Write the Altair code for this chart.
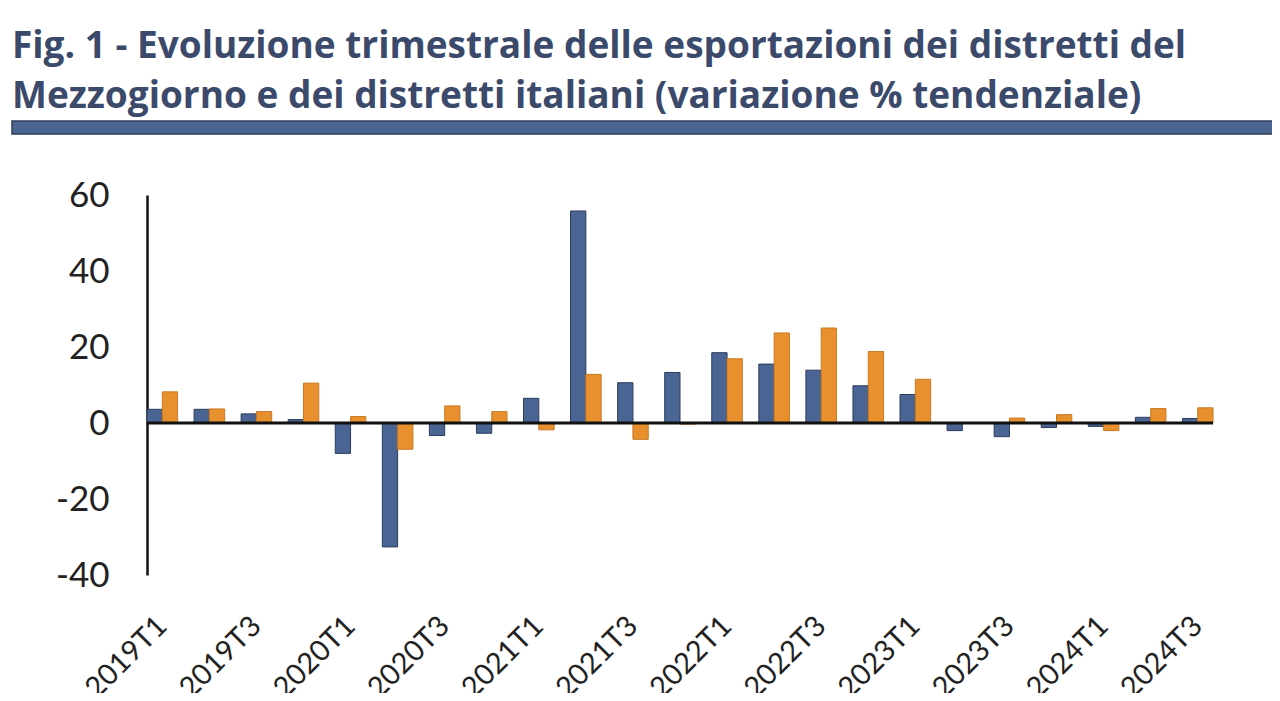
import altair as alt
import pandas as pd

quarters = [f"{y}T{q}" for y in range(2019, 2025) for q in range(1, 5)][:23]
mezzogiorno = [3.6, 3.6, 2.4, 0.9, -8.0, -32.6, -3.3, -2.7, 6.5, 55.8, 10.6, 13.3,
               18.5, 15.5, 13.9, 9.8, 7.5, -2.0, -3.6, -1.2, -0.9, 1.5, 1.2]
italiani = [8.2, 3.7, 3.0, 10.5, 1.7, -6.9, 4.5, 3.0, -1.8, 12.8, -4.3, -0.3,
            16.9, 23.7, 25.0, 18.8, 11.5, 0.1, 1.3, 2.2, -2.0, 3.8, 4.0]
series_names = ["Distretti del Mezzogiorno", "Distretti italiani"]
tick_labels = quarters[::2]
y_ticks = [-40, -20, 0, 20, 40, 60]
title_lines = ["Fig. 1 - Evoluzione trimestrale delle esportazioni dei distretti del",
               "Mezzogiorno e dei distretti italiani (variazione % tendenziale)"]

rows = []
for q, a, b in zip(quarters, mezzogiorno, italiani):
    rows.append({"trimestre": q, "serie": series_names[0], "valore": a})
    rows.append({"trimestre": q, "serie": series_names[1], "valore": b})
df = pd.DataFrame(rows)

W, H = 1066, 380

bars = alt.Chart(df).mark_bar(strokeWidth=1).encode(
    x=alt.X("trimestre:N", sort=quarters,
            scale=alt.Scale(paddingInner=0.35, paddingOuter=0.0),
            axis=alt.Axis(values=tick_labels, labelAngle=-45, labelFontSize=29,
                          labelFont="Lato", labelColor="#222222", ticks=False,
                          domain=False, title=None, labelPadding=46,
                          labelAlign="right", labelBaseline="middle")),
    xOffset=alt.XOffset("serie:N", sort=series_names),
    y=alt.Y("valore:Q", scale=alt.Scale(domain=[-40, 60], nice=False),
            axis=alt.Axis(values=y_ticks, grid=False, ticks=False,
                          domainColor="#111111", domainWidth=2.5,
                          labelExpr="toString(datum.value)",
                          labelFontSize=35, labelFont="Lato", labelColor="#222222",
                          labelPadding=38, title=None)),
    color=alt.Color("serie:N", sort=series_names,
                    scale=alt.Scale(domain=series_names, range=["#4a6494", "#e88f2e"]),
                    legend=None),
    stroke=alt.Stroke("serie:N", sort=series_names,
                      scale=alt.Scale(domain=series_names, range=["#2c3b5a", "#c77a24"]),
                      legend=None),
)

zero = alt.Chart(pd.DataFrame({"v": [0]})).mark_rule(color="#111111", strokeWidth=3).encode(
    y="v:Q", x=alt.value(0), x2=alt.value(W)
)

band = alt.Chart(pd.DataFrame({"v": [0]})).mark_rect(
    color="#4a6590", stroke="#2d3e5c", strokeWidth=1.5
).encode(
    x=alt.value(-135), x2=alt.value(1140), y=alt.value(-74), y2=alt.value(-61)
)

def title_line(txt, ypos):
    return alt.Chart(pd.DataFrame({"t": [txt]})).mark_text(
        align="left", baseline="alphabetic", font="Open Sans", fontWeight="bold",
        fontSize=37, color="#3b4a6b"
    ).encode(text="t:N", x=alt.value(-135), y=alt.value(ypos))

t1 = title_line(title_lines[0], -137)
t2 = title_line(title_lines[1], -87)

chart = alt.layer(bars, zero, band, t1, t2).properties(
    width=W, height=H,
    background="#ffffff",
    autosize=alt.AutoSizeParams(type="none"),
    padding={"left": 139, "top": 187, "right": 59, "bottom": 118},
).configure_view(strokeWidth=0)

chart.save("out.html", embed_options={"renderer": "svg", "actions": False})
